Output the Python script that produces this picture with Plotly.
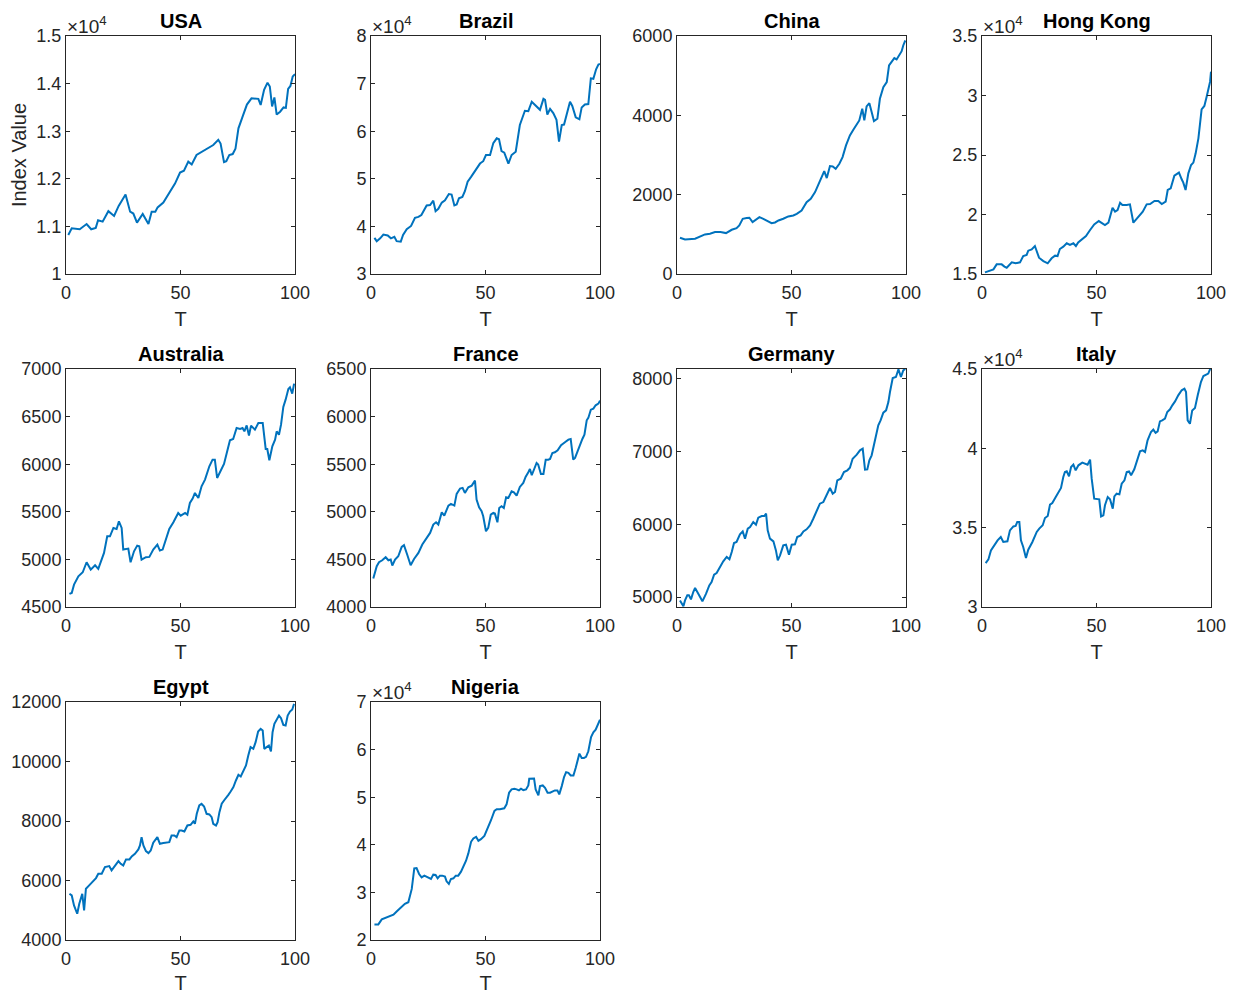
import plotly.graph_objects as go

# ---------------- data ----------------
countries = ["USA", "Brazil", "China", "Hong Kong", "Australia", "France",
             "Germany", "Italy", "Egypt", "Nigeria"]

usa_t = [1, 2.5, 6, 9, 11, 13, 14, 16, 18.5, 21, 23, 26, 28, 29.4, 31, 33.5, 36, 37.4, 39, 40,
         42.5, 44.7, 47.6, 49.8, 51.5, 53.4, 54.9, 57, 60, 62, 64.3, 66.5, 67.5, 69, 70, 71.3, 72.8,
         74, 75.3, 77, 79, 81, 84, 85, 86.5, 88, 89, 90, 91, 92, 93.5, 95, 96, 97, 98, 99, 100]
usa_v = [10820, 10960, 10940, 11050, 10940, 10970, 11130, 11100, 11320, 11220, 11430, 11670, 11310,
         11270, 11080, 11260, 11050, 11310, 11310, 11400, 11500, 11660, 11900, 12130, 12170, 12360,
         12300, 12500, 12580, 12640, 12710, 12820, 12740, 12350, 12370, 12500, 12520, 12630, 13060,
         13290, 13560, 13690, 13680, 13550, 13870, 14020, 13940, 13520, 13710, 13350, 13410, 13500,
         13490, 13890, 13950, 14150, 14200]

brazil_t = [1.5, 2.5, 4, 5.4, 7.3, 8.7, 10.2, 11.2, 13, 14, 15.6, 17.5, 19.2, 20.7, 22, 24.3, 25.8,
            27.2, 28.2, 29.4, 30.9, 32.3, 34, 35.2, 36.4, 37.4, 38.4, 39.9, 41, 42.2, 43.7, 44.7,
            46.1, 47.6, 49, 50.2, 52, 53.4, 54.9, 55.9, 57, 58.2, 60, 61.4, 63.2, 65, 67.2, 68.7,
            70.2, 71.9, 73.8, 75.3, 76, 77, 78.2, 79.6, 81, 82.1, 83.3, 84.3, 85.4, 86.9, 87.9, 89.4,
            91, 92, 93.4, 94.9, 96, 97.1, 98.3, 99.3, 100]
brazil_v = [37600, 36900, 37500, 38300, 38100, 37500, 37800, 36900, 36800, 38200, 39400, 40100,
            41800, 42000, 42400, 44400, 44500, 45400, 43200, 43700, 45000, 45500, 46800, 46700,
            44400, 44600, 45900, 46200, 47400, 49400, 50400, 51100, 52100, 53200, 53700, 55000,
            55000, 57500, 58500, 58300, 55800, 55500, 53200, 55000, 55700, 61300, 64300, 64200,
            66200, 65400, 64500, 66800, 66600, 63500, 64700, 63800, 62400, 57800, 61300, 61400,
            63600, 66200, 65300, 62900, 62500, 65000, 65600, 65700, 71100, 71000, 73000, 74000, 74100]

china_t = [1.3, 3.5, 7.9, 10.8, 12.2, 14.4, 16.6, 19, 21.4, 23.9, 26, 27.2, 28.7, 30.4, 31.6, 33,
           34.5, 36, 37.7, 39.4, 41.3, 42.8, 44.3, 46.4, 48.6, 50.8, 52.3, 54.4, 56.6, 58.4, 60.3,
           62.2, 64.3, 65.4, 66.8, 68, 69.3, 70.9, 72.3, 73.8, 75.5, 77, 78.5, 79.6, 80.9, 81.8,
           82.8, 84, 85, 86, 87.5, 88.6, 90.1, 91.6, 92.6, 93.7, 94.9, 95.9, 97.1, 98.1, 98.8, 99.7]
china_v = [914, 872, 888, 955, 998, 1015, 1056, 1056, 1031, 1115, 1157, 1224, 1392, 1409, 1418, 1309,
           1367, 1434, 1392, 1350, 1283, 1300, 1350, 1392, 1451, 1476, 1518, 1602, 1812, 1896, 2065,
           2317, 2594, 2418, 2720, 2712, 2653, 2779, 2947, 3241, 3493, 3635, 3787, 3871, 4165, 3871,
           4224, 4307, 4081, 3854, 3913, 4417, 4711, 4837, 5257, 5341, 5441, 5408, 5534, 5618, 5761,
           5887]

hongkong_t = [1.3, 2.8, 3.9, 5, 6.4, 8.6, 9.8, 10.8, 13, 14.7, 16.6, 18, 19.5, 20.2, 21.7, 23.1,
              24.9, 26.8, 28.7, 30.4, 31.9, 33, 34, 35.5, 37, 38.4, 39.9, 41, 42, 43.5, 45.4, 47.2,
              49, 51, 52.3, 53.7, 55.2, 56.3, 57, 58.1, 59.2, 60.3, 61.3, 63.2, 64.6, 66.1, 67.1,
              68.7, 70.2, 71.9, 73.4, 75.3, 77, 78.5, 80.2, 81.1, 82.4, 84, 85, 86, 87.2, 87.9, 88.9,
              90.1, 91.3, 92.3, 93.3, 94.5, 95.9, 97.1, 98.1, 98.8, 99.6, 100]
hongkong_v = [15140, 15250, 15340, 15390, 15810, 15810, 15620, 15530, 15980, 15900, 15980, 16510,
              16600, 16960, 17070, 17350, 16370, 16090, 15900, 16320, 16540, 16510, 17100, 17300,
              17580, 17440, 17580, 17350, 17660, 17910, 18190, 18700, 19170, 19450, 19310, 19120,
              19310, 20150, 20570, 20240, 20380, 20990, 20800, 20800, 20850, 19310, 19540, 19900,
              20240, 20850, 20880, 21130, 21130, 20880, 21080, 22060, 22200, 23260, 23380, 23520,
              22960, 22680, 22060, 23460, 24160, 24360, 25140, 26400, 28840, 29120, 29900, 30460,
              31160, 32000]

australia_t = [1.5, 2.5, 3.5, 5.4, 7.3, 9, 10.8, 12.7, 14.1, 15.6, 16.6, 18, 19.2, 20.7, 22.1, 23.1,
               24.3, 25, 26.5, 27.2, 28.2, 29.7, 31.1, 32, 33, 34.9, 36.4, 38.1, 39.9, 41, 42.2,
               43.7, 45.1, 46.9, 49, 50.1, 52, 53, 54.1, 55.3, 56.3, 57.8, 59.2, 60.7, 62.6, 64, 65,
               66, 67.5, 69, 70.2, 71.6, 73, 74.5, 76, 77.1, 77.9, 78.9, 79.9, 80.8, 82.5, 84, 85.9,
               87.2, 87.9, 88.8, 90.1, 91.3, 92, 93, 93.9, 94.9, 95.9, 97.1, 97.8, 98.8, 99.6]
australia_v = [4637, 4648, 4735, 4823, 4865, 4970, 4893, 4938, 4900, 5015, 5068, 5243, 5243, 5330,
               5320, 5400, 5330, 5103, 5110, 5113, 4970, 5085, 5145, 5138, 4998, 5023, 5026, 5103,
               5155, 5093, 5103, 5215, 5320, 5390, 5488, 5460, 5488, 5470, 5593, 5638, 5698, 5645,
               5768, 5838, 5978, 6048, 6048, 5855, 5925, 6003, 6118, 6251, 6265, 6380, 6370, 6380,
               6345, 6408, 6300, 6405, 6363, 6433, 6433, 6160, 6160, 6041, 6188, 6258, 6345, 6310,
               6415, 6601, 6678, 6790, 6808, 6741, 6846]

france_t = [1, 2.5, 3.5, 4.9, 6.4, 7.6, 8.6, 9.3, 10.5, 11.9, 13.4, 14.4, 15.9, 17.3, 18.8, 20.7,
            22.4, 24.3, 25.8, 27.2, 28.4, 29.4, 30.9, 32, 33.8, 34.9, 36.4, 37.4, 38.9, 40, 41, 42.5,
            44, 45.4, 46.1, 47.2, 48.3, 49, 50.2, 51.2, 52.3, 53.4, 54.1, 55.2, 56, 57, 58, 59, 60,
            61.4, 62.4, 63.6, 65, 66.5, 67.5, 68.7, 69.4, 70.2, 71.3, 72.3, 73, 74.2, 75.3, 76.3,
            77.4, 78.2, 79.2, 80.3, 81.5, 83, 84.7, 86.2, 87.2, 88.3, 89.1, 90.5, 91.3, 92.3, 93.2,
            94.2, 94.9, 96, 97.1, 98.1, 99.3, 100]
france_v = [4299, 4428, 4470, 4491, 4523, 4491, 4498, 4435, 4498, 4533, 4631, 4649, 4544, 4439, 4505,
            4568, 4656, 4726, 4778, 4866, 4890, 4866, 4995, 4960, 5065, 5083, 5065, 5188, 5244, 5251,
            5198, 5258, 5275, 5328, 5128, 5048, 5006, 4953, 4796, 4831, 4971, 4988, 4981, 4890, 5040,
            5058, 5040, 5153, 5146, 5216, 5205, 5170, 5261, 5303, 5366, 5415, 5450, 5384, 5443, 5513,
            5496, 5398, 5398, 5548, 5548, 5555, 5618, 5625, 5646, 5699, 5730, 5758, 5765, 5548, 5566,
            5660, 5695, 5765, 5811, 5961, 5986, 6073, 6084, 6119, 6136, 6168]

germany_t = [1.3, 2.8, 3.5, 4.5, 5.2, 6.1, 7.1, 7.9, 9.3, 11.1, 12.7, 14.1, 15.1, 16.2, 17.3, 18.8,
             20.2, 21.7, 22.9, 23.9, 24.9, 26, 27.5, 28.7, 29.7, 30.9, 31.9, 33.3, 34.5, 35.5, 37,
             38.1, 38.9, 39.6, 40.6, 42.1, 43.2, 44, 45, 46.4, 47.6, 48.9, 50.1, 51.5, 52.5, 54,
             55.2, 56.6, 58.1, 59.5, 61, 62.4, 63.9, 65.4, 66.8, 68, 69, 70, 71.5, 72.9, 74.4, 75.5,
             76.7, 78.5, 79.9, 81.1, 82.1, 83.1, 84, 85, 86.5, 87.9, 88.9, 90.1, 91.3, 92.3, 93, 94.2,
             95.6, 96.7, 97.8, 98.8, 99.7]
germany_v = [4954, 4872, 4954, 5023, 5023, 4968, 5069, 5124, 5046, 4941, 5046, 5160, 5206, 5307,
             5330, 5412, 5490, 5550, 5518, 5618, 5742, 5756, 5861, 5902, 5802, 5939, 5962, 6031,
             5994, 6090, 6113, 6113, 6145, 5916, 5802, 5765, 5641, 5504, 5573, 5710, 5719, 5582,
             5719, 5724, 5825, 5847, 5902, 5930, 5985, 6076, 6191, 6283, 6305, 6406, 6498, 6420,
             6443, 6603, 6626, 6718, 6741, 6777, 6901, 6956, 7015, 7038, 6750, 6754, 6878, 6947,
             7153, 7359, 7427, 7533, 7565, 7679, 7817, 8009, 8023, 8128, 8023, 8115, 8133]

italy_t = [1.6, 2.8, 3.9, 5.4, 6.8, 8.2, 9.3, 11.1, 12.2, 13.7, 14.7, 15.4, 16.3, 17, 18, 19.2, 20.2,
           22, 23.9, 25, 26.5, 27.5, 28.7, 29.7, 30.7, 32.2, 33.3, 34.5, 35.5, 36.2, 37, 38, 38.9,
           39.9, 40.9, 42.1, 43.8, 45, 46.1, 47.2, 47.9, 49, 50.5, 51.2, 52, 53, 53.7, 54.9, 55.9,
           57.1, 57.8, 58.8, 60, 61, 62.2, 63.2, 64.2, 65.1, 66.5, 67.5, 69, 70.2, 71.2, 72.3, 73.8,
           74.8, 75.8, 76.7, 77.7, 78.7, 79.9, 80.9, 82.1, 83.1, 84.3, 85.7, 87.2, 88.4, 89.1, 89.8,
           90.8, 91.8, 93, 94.2, 95.6, 96.7, 97.8, 98.8, 99.7]
italy_v = [32770, 33000, 33570, 33930, 34200, 34410, 34100, 34140, 34830, 35080, 35110, 35360, 35360,
           34200, 33780, 33090, 33610, 34100, 34730, 34940, 35150, 35610, 35740, 36450, 36550, 36930,
           37210, 37500, 38190, 38510, 38550, 38240, 38820, 38970, 38610, 38930, 39100, 39030, 38970,
           39290, 38090, 36830, 36830, 36790, 35710, 35780, 36410, 36930, 36790, 36200, 36970, 37140,
           37100, 37770, 37980, 38510, 38550, 38300, 38680, 39140, 39810, 39870, 39770, 40500, 41030,
           41180, 40970, 41070, 41700, 41760, 41870, 42290, 42460, 42710, 42960, 43340, 43660, 43760,
           43550, 41760, 41550, 42390, 42540, 43340, 44180, 44560, 44660, 44710, 45020]

egypt_t = [1.5, 2.5, 3.5, 4.9, 5.8, 7.1, 7.9, 8.7, 9.8, 11.6, 13.1, 14.1, 15.6, 17, 18.9, 19.9, 21.4,
           22.9, 23.9, 25, 26.2, 27.7, 28.7, 30.1, 31.6, 32.3, 33, 33.8, 34.9, 36, 37, 38.1, 39.9,
           41, 42.5, 44, 45.1, 46.1, 47.3, 48.3, 49.5, 50.5, 51.7, 53, 54.4, 55.6, 56.3, 57.1, 58.2,
           59.2, 60.3, 61.4, 62.6, 63.6, 64.3, 65.5, 66.2, 67, 68, 69, 69.9, 70.9, 71.9, 73.1, 74.2,
           75.3, 76.3, 77.4, 78.6, 79.6, 80.6, 81.8, 82.8, 83.9, 85, 85.9, 86.6, 87.6, 88.6, 89.5,
           90.2, 91, 92, 93, 93.9, 94.9, 95.9, 96.8, 97.8, 98.8, 99.6]
egypt_v = [5554, 5498, 5162, 4882, 5218, 5554, 4994, 5722, 5812, 5946, 6081, 6226, 6226, 6450, 6484,
           6338, 6506, 6652, 6562, 6506, 6708, 6708, 6809, 6898, 7044, 7178, 7458, 7178, 6988, 6921,
           7010, 7268, 7458, 7234, 7257, 7290, 7290, 7514, 7514, 7458, 7682, 7682, 7648, 7850, 7873,
           7985, 7906, 8242, 8522, 8578, 8489, 8242, 8220, 8130, 7906, 7850, 7962, 8298, 8578, 8690,
           8802, 8881, 8993, 9138, 9362, 9553, 9497, 9698, 9866, 10202, 10482, 10426, 10650, 11009,
           11098, 11042, 10426, 10482, 10538, 10336, 10986, 11266, 11412, 11546, 11456, 11232,
           11210, 11546, 11680, 11748, 11938]

nigeria_t = [1.5, 3.2, 4.7, 6.1, 7.9, 9.8, 11.2, 13.1, 14.8, 16.3, 17.8, 18.9, 19.9, 21, 22.1, 23.3,
             24.3, 25.5, 26.2, 27.2, 28.2, 29.1, 30.1, 31.1, 32.3, 33, 34, 34.9, 36, 37, 38.1, 39.3,
             40.3, 41.5, 42.5, 43.7, 44.7, 45.9, 46.9, 48, 49.5, 50.9, 52.4, 53.9, 54.9, 56.3, 58.2,
             59.2, 60.3, 61.4, 62.6, 63.6, 64.6, 65.5, 66.5, 67.7, 68.7, 69.1, 70.2, 71.2, 71.9,
             73.1, 73.8, 75, 76, 77.1, 78.2, 79.3, 80.3, 81.4, 82.2, 83.3, 84.3, 85.2, 86.2, 87.2,
             88.4, 89.4, 90.2, 91, 92, 93, 93.9, 94.9, 96.1, 97.1, 98.1, 99, 100]
nigeria_v = [23280, 23280, 24320, 24600, 24810, 25300, 25990, 26900, 27600, 27940, 30730, 35050,
             35120, 33870, 33170, 33520, 33310, 32960, 32820, 33730, 33660, 32960, 33520, 33520,
             33310, 32330, 31780, 32820, 32960, 33520, 33520, 34360, 35470, 36660, 38190, 40630,
             41320, 41670, 40840, 41180, 41880, 43410, 45160, 47110, 47460, 47460, 47670, 48500,
             50940, 51640, 51780, 51640, 51430, 51780, 51500, 51640, 52470, 53870, 53940, 53940,
             51640, 50380, 52330, 52470, 51990, 50940, 50940, 51150, 51430, 51430, 50590, 52330,
             54220, 55260, 55120, 54560, 54560, 56170, 58050, 59160, 58260, 58260, 58470, 59650,
             62650, 63620, 64180, 65020, 66270]

series_t = [usa_t, brazil_t, china_t, hongkong_t, australia_t, france_t, germany_t, italy_t,
            egypt_t, nigeria_t]
series_v = [usa_v, brazil_v, china_v, hongkong_v, australia_v, france_v, germany_v, italy_v,
            egypt_v, nigeria_v]

x_ticks = [0, 50, 100]
y_limits = [[10000, 15000], [30000, 80000], [0, 6000], [15000, 35000], [4500, 7000],
            [4000, 6500], [4863, 8133], [30000, 45000], [4000, 12000], [20000, 70000]]
y_tickvals = [[10000, 11000, 12000, 13000, 14000, 15000],
              [30000, 40000, 50000, 60000, 70000, 80000],
              [0, 2000, 4000, 6000],
              [15000, 20000, 25000, 30000, 35000],
              [4500, 5000, 5500, 6000, 6500, 7000],
              [4000, 4500, 5000, 5500, 6000, 6500],
              [5000, 6000, 7000, 8000],
              [30000, 35000, 40000, 45000],
              [4000, 6000, 8000, 10000, 12000],
              [20000, 30000, 40000, 50000, 60000, 70000]]
y_ticktext = [["1", "1.1", "1.2", "1.3", "1.4", "1.5"],
              ["3", "4", "5", "6", "7", "8"],
              ["0", "2000", "4000", "6000"],
              ["1.5", "2", "2.5", "3", "3.5"],
              ["4500", "5000", "5500", "6000", "6500", "7000"],
              ["4000", "4500", "5000", "5500", "6000", "6500"],
              ["5000", "6000", "7000", "8000"],
              ["3", "3.5", "4", "4.5"],
              ["4000", "6000", "8000", "10000", "12000"],
              ["2", "3", "4", "5", "6", "7"]]
has_exponent = [True, True, False, True, False, False, False, True, False, True]

# ---------------- layout / styling ----------------
W, H = 1237, 994
col_left = [66, 371, 677, 982]
row_top = [36, 369, 702]
ax_w, ax_h = 229, 238
FONT = "Liberation Sans, Arial, Helvetica, sans-serif"
AXC = "#262626"
LINE = "#0072BD"
TICK_SIZE = 18
LABEL_SIZE = 20

fig = go.Figure()
annotations = []
layout = {}

for i, name in enumerate(countries):
    r, c = divmod(i, 4)
    k = "" if i == 0 else str(i + 1)
    x0 = col_left[c] / W
    x1 = (col_left[c] + ax_w) / W
    y1 = 1 - row_top[r] / H
    y0 = 1 - (row_top[r] + ax_h) / H

    fig.add_trace(go.Scatter(x=series_t[i], y=series_v[i], mode="lines",
                             line=dict(color=LINE, width=2), xaxis="x" + k, yaxis="y" + k,
                             showlegend=False, hoverinfo="skip"))

    common = dict(showline=True, linecolor=AXC, linewidth=1, mirror="ticks", ticks="inside",
                  ticklen=4, tickwidth=1, tickcolor=AXC, showgrid=False, zeroline=False,
                  tickfont=dict(family=FONT, size=TICK_SIZE, color=AXC), automargin=False,
                  fixedrange=True)
    layout["xaxis" + k] = dict(common, domain=[x0, x1], range=[0, 100], tickvals=x_ticks,
                               anchor="y" + k, ticklabelstandoff=2,
                               title=dict(text="T", standoff=10,
                                          font=dict(family=FONT, size=LABEL_SIZE, color=AXC)))
    ydict = dict(common, domain=[y0, y1], range=y_limits[i], tickvals=y_tickvals[i],
                 ticktext=y_ticktext[i], anchor="x" + k, ticklabelstandoff=0)
    if i == 0:
        ydict["title"] = dict(text="Index Value", standoff=4,
                              font=dict(family=FONT, size=LABEL_SIZE, color=AXC))
    layout["yaxis" + k] = ydict

    annotations.append(dict(text="<b>" + name + "</b>", x=0.5, y=1, xref="x" + k + " domain",
                            yref="y" + k + " domain", xanchor="center", yanchor="bottom",
                            yshift=2, showarrow=False,
                            font=dict(family=FONT, size=LABEL_SIZE, color="#000000")))
    if has_exponent[i]:
        annotations.append(dict(text="\u00d710<sup>4</sup>", x=0, y=1, xref="x" + k + " domain",
                                yref="y" + k + " domain", xanchor="left", yanchor="bottom",
                                xshift=-1, yshift=-3, showarrow=False,
                                font=dict(family=FONT, size=19, color=AXC)))

fig.update_layout(**layout)
fig.update_layout(width=W, height=H, autosize=False, margin=dict(l=0, r=0, t=0, b=0),
                  paper_bgcolor="white", plot_bgcolor="white", annotations=annotations,
                  font=dict(family=FONT, color=AXC))

fig.write_html("out.html", config={"displayModeBar": False},
               post_script="document.body.style.margin='0';document.body.style.overflow='hidden';")
